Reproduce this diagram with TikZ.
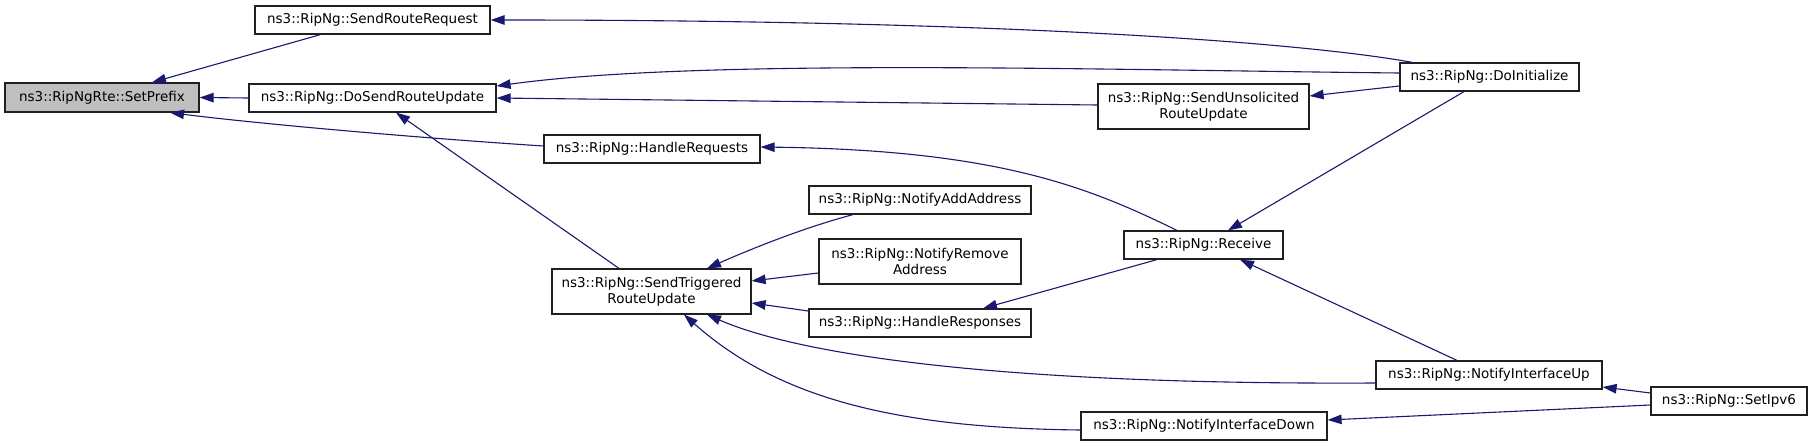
\documentclass[tikz,border=0pt]{standalone}
\usepackage{fontspec}
\setmainfont{DejaVu Sans}
\usetikzlibrary{arrows.meta,calc}
\definecolor{edgecol}{HTML}{191970}
\definecolor{grayfill}{HTML}{BFBFBF}
\definecolor{boxline}{HTML}{202020}
\begin{document}
\begin{tikzpicture}[x=1pt,y=-1pt,
  fnode/.style={draw=boxline, line width=1.2pt, fill=white, inner sep=0pt, align=center,
    font=\fontsize{13.5}{16}\selectfont, minimum height=28pt},
  tnode/.style={fnode, minimum height=45pt},
  edge/.style={draw=edgecol, line width=1.1pt, -{Triangle[length=14pt,width=9.5pt]}}]
\useasboundingbox (0,0) rectangle (1813,447);
\fill[white] (0,0) rectangle (1813,447);
% nodes
\node[fnode, fill=grayfill, minimum width=194pt, minimum height=29pt] (sp) at (102,97.5) {ns3::RipNgRte::SetPrefix};
\node[fnode, minimum width=235pt] (srr) at (372.5,20) {ns3::RipNg::SendRouteRequest};
\node[fnode, minimum width=247pt] (dsru) at (372.5,98) {ns3::RipNg::DoSendRouteUpdate};
\node[fnode, minimum width=216pt] (hreq) at (652,149) {ns3::RipNg::HandleRequests};
\node[tnode, minimum width=199pt] (stru) at (651.5,291.5) {ns3::RipNg::SendTriggered\\RouteUpdate};
\node[fnode, minimum width=222pt] (naa) at (920,200) {ns3::RipNg::NotifyAddAddress};
\node[tnode, minimum width=202pt] (nra) at (920,261.5) {ns3::RipNg::NotifyRemove\\Address};
\node[fnode, minimum width=222pt] (hres) at (920,323) {ns3::RipNg::HandleResponses};
\node[tnode, minimum width=211pt] (suru) at (1203.5,106.5) {ns3::RipNg::SendUnsolicited\\RouteUpdate};
\node[fnode, minimum width=159pt] (recv) at (1203.5,245) {ns3::RipNg::Receive};
\node[fnode, minimum width=246pt] (nid) at (1204,426) {ns3::RipNg::NotifyInterfaceDown};
\node[fnode, minimum width=179pt] (doi) at (1489.5,77) {ns3::RipNg::DoInitialize};
\node[fnode, minimum width=226pt] (niu) at (1489,375) {ns3::RipNg::NotifyInterfaceUp};
\node[fnode, minimum width=156pt] (ipv6) at (1729,401) {ns3::RipNg::SetIpv6};
% edges
\draw[edge] ([xshift=-52pt]srr.south) -- ([xshift=50pt]sp.north);
\draw[edge] (dsru.west) -- (sp.east);
\draw[edge] ([yshift=3pt]hreq.west) .. controls (420,138) and (260,124) .. ([xshift=68pt]sp.south);
\draw[edge] ([xshift=-77pt]doi.north) .. controls (1300,42) and (1000,20) .. (srr.east);
\draw[edge] ([yshift=4pt]doi.west) .. controls (1100,70) and (700,58) .. ([yshift=12pt]dsru.east);
\draw[edge] ([yshift=1.5pt]suru.west) -- (dsru.east);
\draw[edge] ([xshift=-32.5pt]stru.north) -- ([xshift=23.5pt]dsru.south);
\draw[edge] ([xshift=-26.5pt]recv.north) .. controls (1090,188) and (1000,150) .. ([yshift=2pt]hreq.east);
\draw[edge] ([xshift=-67pt]naa.south) .. controls (810,226) and (760,245) .. ([xshift=55.5pt]stru.north);
\draw[edge] ([yshift=-11.5pt]nra.west) -- ([yshift=10.5pt]stru.east);
\draw[edge] ([yshift=12pt]hres.west) -- ([yshift=-11.5pt]stru.east);
\draw[edge] ([yshift=-8pt]niu.west) .. controls (1000,385) and (800,355) .. ([xshift=55.5pt]stru.south);
\draw[edge] ([yshift=-4pt]nid.west) .. controls (900,428) and (780,400) .. ([xshift=32.5pt]stru.south);
\draw[edge] ([yshift=-9pt]doi.west) -- ([yshift=10.5pt]suru.east);
\draw[edge] ([xshift=-25.5pt]doi.south) -- ([xshift=24.5pt]recv.north);
\draw[edge] ([xshift=-46.5pt]recv.south) -- ([xshift=63pt]hres.north);
\draw[edge] ([xshift=-32pt]niu.north) -- ([xshift=36.5pt]recv.south);
\draw[edge] ([yshift=8pt]ipv6.west) -- ([yshift=-12pt]niu.east);
\draw[edge] ([yshift=-4pt]ipv6.west) -- ([yshift=6pt]nid.east);
\end{tikzpicture}
\end{document}
